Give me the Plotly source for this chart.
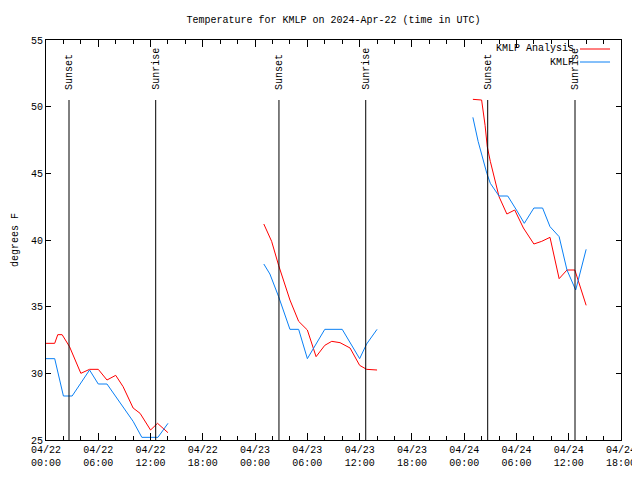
import pandas as pd
import plotly.graph_objects as go

BASE = pd.Timestamp("2024-04-22 00:00")

# KMLP Analysis (red) - hours since 04/22 00:00 UTC, degrees F ; None = gap
ana_hours = [0, 1, 1.35, 1.85, 2.7, 4, 5, 6, 7, 8, 8.85, 10, 10.8, 12, 12.8, 14,
             None,
             25, 25.9, 26.7, 28, 29, 30, 31, 32, 32.8, 33.75, 34.9, 36, 36.8, 38,
             None,
             49, 50, 50.4, 50.65, 51, 52, 52.9, 53.8, 54.8, 56, 56.9, 57.85, 58.9, 59.8, 60.7, 62]
ana_temp = [32.25, 32.25, 32.9, 32.9, 32.0, 30.0, 30.3, 30.3, 29.5, 29.85, 29.0, 27.4, 27.0, 25.75, 26.25, 25.55,
            None,
            41.2, 39.9, 38.1, 35.5, 33.9, 33.25, 31.25, 32.1, 32.4, 32.3, 31.9, 30.6, 30.3, 30.25,
            None,
            50.55, 50.5, 48.6, 47.0, 45.9, 43.25, 41.95, 42.25, 40.9, 39.7, 39.9, 40.2, 37.1, 37.75, 37.75, 35.1]

# KMLP observations (blue)
obs_hours = [0, 1, 2, 3, 5, 6, 7, 8, 9, 10, 11, 12.85, 14,
             None,
             25, 25.7, 26.7, 28, 29, 30, 32, 34, 36, 36.8, 38,
             None,
             49, 49.6, 50.6, 51, 52, 53, 54, 54.9, 56, 57, 57.85, 58.9, 59.8, 60.8, 62]
obs_temp = [31.1, 31.1, 28.3, 28.3, 30.25, 29.2, 29.2, 28.25, 27.3, 26.4, 25.2, 25.2, 26.25,
            None,
            38.2, 37.45, 35.75, 33.3, 33.3, 31.1, 33.3, 33.3, 31.1, 32.2, 33.3,
            None,
            49.2, 47.4, 45.0, 44.25, 43.3, 43.3, 42.25, 41.25, 42.4, 42.4, 41.0, 40.25, 37.75, 36.25, 39.3]

# Sun events
event_names = ["Sunset", "Sunrise", "Sunset", "Sunrise", "Sunset", "Sunrise"]
event_hours = [2.64, 12.59, 26.74, 36.70, 50.70, 60.72]

series_names = ["KMLP Analysis", "KMLP"]
series_colors = ["#ff0000", "#0a80f5"]

y_min, y_max = 25, 55
x_start, x_end = 0, 66


def to_time(hours):
    return [None if h is None else BASE + pd.Timedelta(hours=h) for h in hours]


FONT = "Liberation Mono, DejaVu Sans Mono, monospace"

fig = go.Figure()
for name, hrs, temps, col in [(series_names[0], ana_hours, ana_temp, series_colors[0]),
                              (series_names[1], obs_hours, obs_temp, series_colors[1])]:
    fig.add_trace(go.Scatter(x=to_time(hrs), y=temps, mode="lines", name=name,
                             line=dict(color=col, width=1), connectgaps=False,
                             showlegend=False))

shapes = []
annotations = []
for name, h in zip(event_names, event_hours):
    t = BASE + pd.Timedelta(hours=h)
    shapes.append(dict(type="line", xref="x", yref="y", x0=t, x1=t, y0=y_min, y1=50.5,
                       line=dict(color="black", width=1)))
    annotations.append(dict(x=t, y=51.1, xref="x", yref="y", text=name, textangle=-90,
                            showarrow=False, xanchor="center", yanchor="bottom",
                            font=dict(family=FONT, size=10, color="black")))

# legend (gnuplot style: text on the left, sample on the right)
leg_y = [0.9775, 0.945]
for i, (name, col) in enumerate(zip(series_names, series_colors)):
    annotations.append(dict(x=0.922, y=leg_y[i], xref="paper", yref="paper", text=name,
                            showarrow=False, xanchor="right", yanchor="middle",
                            font=dict(family=FONT, size=10, color="black")))
    shapes.append(dict(type="line", xref="paper", yref="paper", x0=0.9287, x1=0.9809,
                       y0=leg_y[i], y1=leg_y[i], line=dict(color=col, width=1)))

annotations.append(dict(x=-37.5 / 575, y=0.5, xref="paper", yref="paper", text="degrees F",
                        textangle=-90, showarrow=False, xanchor="left", yanchor="middle",
                        borderpad=0,
                        font=dict(family=FONT, size=10, color="black")))

# page body has an 8px margin, so the figure is sized/offset to compensate
fig.update_layout(
    width=632, height=472,
    margin=dict(l=38, r=19, t=32, b=40, autoexpand=False),
    paper_bgcolor="white", plot_bgcolor="white",
    title=dict(text="Temperature for KMLP on 2024-Apr-22 (time in UTC)", x=0.5, xref="paper",
               y=1 - 11 / 472, yanchor="middle",
               font=dict(family=FONT, size=10, color="black")),
    font=dict(family=FONT, size=10, color="black"),
    shapes=shapes, annotations=annotations,
    xaxis=dict(type="date",
               range=[BASE + pd.Timedelta(hours=x_start), BASE + pd.Timedelta(hours=x_end)],
               tick0=BASE, dtick=6 * 3600 * 1000, tickformat="%m/%d<br>%H:%M",
               ticks="inside", ticklen=7, tickcolor="black", tickwidth=1,
               minor=dict(dtick=2 * 3600 * 1000, ticks="inside", ticklen=4, tickcolor="black"),
               showline=True, linecolor="black", linewidth=1, mirror="allticks",
               showgrid=False, zeroline=False, automargin=False,
               tickfont=dict(family=FONT, size=10, color="black")),
    yaxis=dict(range=[y_min, y_max], dtick=5, tick0=25,
               ticks="inside", ticklen=5, tickcolor="black", tickwidth=1,
               showline=True, linecolor="black", linewidth=1, mirror="allticks",
               showgrid=False, zeroline=False, automargin=False,
               tickfont=dict(family=FONT, size=10, color="black")),
)

fig.write_html("out.html")
